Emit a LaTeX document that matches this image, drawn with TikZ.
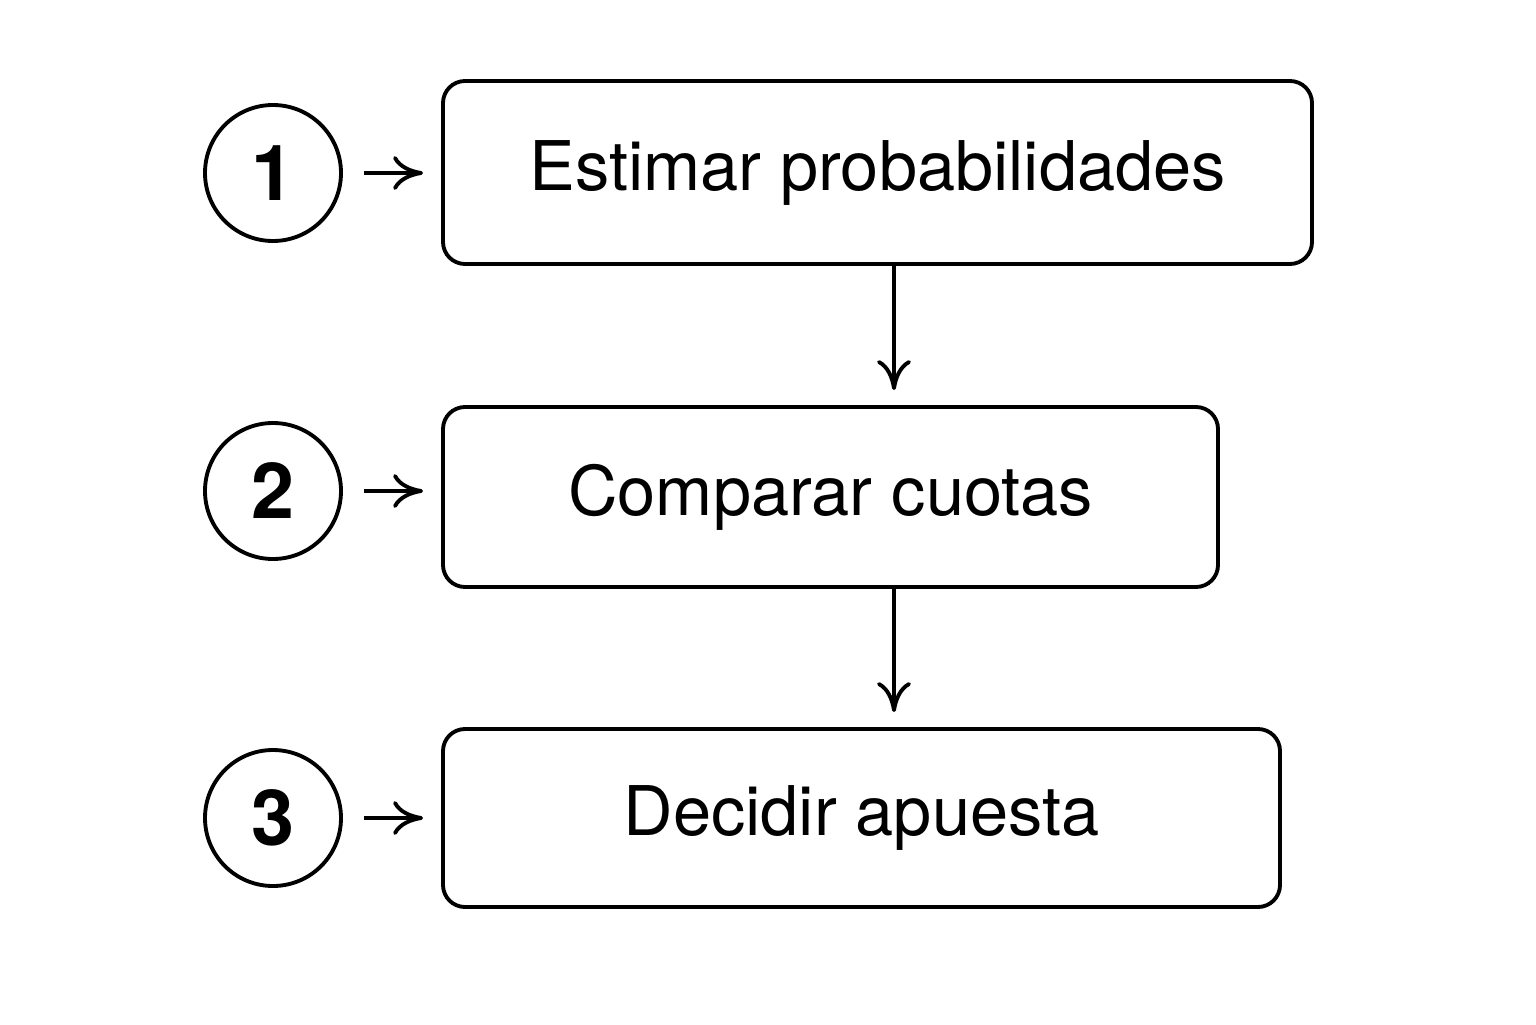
\documentclass[tikz,border=0pt]{standalone}
\usepackage{fontspec}
\setmainfont{TeX Gyre Heros}
\usetikzlibrary{arrows.meta}
\begin{document}
\begin{tikzpicture}[>={To[length=3mm,width=3.4mm]},line width=1.1pt,
    stepbox/.style={draw,rounded corners=2.2mm,font=\fontsize{19.5}{22}\selectfont},
    num/.style={draw,circle,minimum size=1.36cm,inner sep=0pt,font=\fontsize{22}{24}\selectfont\bfseries}]
  \useasboundingbox (0,0) rectangle (15.36,10.24);
  % pasos
  \node[stepbox,minimum width=8.69cm,minimum height=1.83cm] (b1) at (8.775,8.515) {Estimar probabilidades};
  \node[stepbox,minimum width=7.75cm,minimum height=1.80cm] (b2) at (8.305,5.27) {Comparar cuotas};
  \node[stepbox,minimum width=8.37cm,minimum height=1.78cm] (b3) at (8.615,2.06) {Decidir apuesta};
  % numeros
  \node[num] (n1) at (2.73,8.51) {1};
  \node[num] (n2) at (2.73,5.33) {2};
  \node[num] (n3) at (2.73,2.06) {3};
  \foreach \i in {1,2,3}
    \draw[->] ([xshift=2.1mm]n\i.east) -- ([xshift=-1.8mm]b\i.west |- n\i.east);
  \draw[->,shorten >=1.5mm] ([xshift=1.65mm]b1.south) -- ([xshift=6.35mm]b2.north);
  \draw[->,shorten >=1.5mm] ([xshift=6.35mm]b2.south) -- ([xshift=3.25mm]b3.north);
\end{tikzpicture}
\end{document}
